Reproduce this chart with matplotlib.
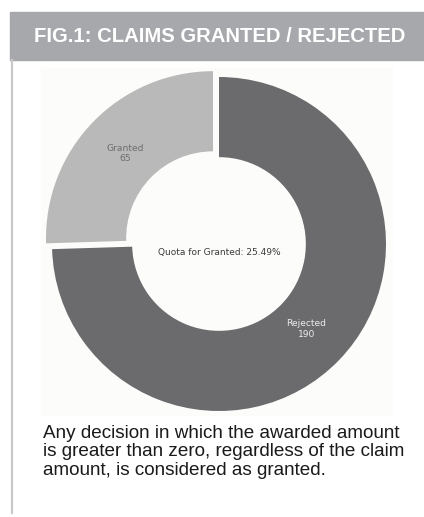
import matplotlib
matplotlib.use("Agg")
import matplotlib.pyplot as plt
from matplotlib.patches import Rectangle
from matplotlib.lines import Line2D

labels = ["Granted", "Rejected"]
counts = [65, 190]
colors = ["#b9b9b9", "#6b6b6d"]
label_colors = ["#6e6e6e", "#ececec"]
title = "FIG.1: CLAIMS GRANTED / REJECTED"
note = ("Any decision in which the awarded amount\n"
        "is greater than zero, regardless of the claim\n"
        "amount, is considered as granted.")

W, H = 424, 517
fig = plt.figure(figsize=(W / 100, H / 100), dpi=100)
fig.patch.set_facecolor("white")

def px(x, y, w, h):
    # pixel box from top-left -> figure fraction
    return [x / W, 1 - (y + h) / H, w / W, h / H]

# header bar + frame line
fig.patches.append(Rectangle((10 / W, 1 - 60 / H), (W - 10) / W, 48 / H,
                             transform=fig.transFigure, color="#a7a8ab", zorder=0))
fig.lines.append(Line2D([11.5 / W, 11.5 / W], [1 - 60 / H, 1 - 513 / H],
                        transform=fig.transFigure, color="#c9c9c9", lw=1.6))
fig.text(220 / W, 1 - 37 / H, title, color="white", fontsize=14.6, fontweight="bold",
         family=["Liberation Sans", "DejaVu Sans"], ha="center", va="center")

# faint chart background
fig.patches.append(Rectangle((41 / W, 1 - 415 / H), 351 / W, 347 / H,
                             transform=fig.transFigure, color="#fcfcfa", zorder=0))

# donut
R = 167
ax = fig.add_axes(px(219 - 1.2 * R, 244 - 1.2 * R, 2.4 * R, 2.4 * R))
ax.set_zorder(2)
ax.patch.set_alpha(0)
ax.set_aspect("equal")
ax.axis("off")

quota = counts[0] / sum(counts) * 100
wedges, texts = ax.pie(counts, labels=[f"{l}\n{c}" for l, c in zip(labels, counts)],
                       colors=colors, startangle=90, counterclock=True,
                       explode=[0.05, 0], labeldistance=0.73,
                       wedgeprops=dict(width=0.48, linewidth=0),
                       textprops=dict(fontsize=6.6))
for t, c in zip(texts, label_colors):
    t.set_ha("center")
    t.set_va("center")
    t.set_multialignment("center")
    t.set_color(c)
ax.set_xlim(-1.2, 1.2)
ax.set_ylim(-1.2, 1.2)
ax.text(0, -0.05, f"Quota for Granted: {quota:.2f}%", ha="center", va="center",
        fontsize=6.5, color="#3a3a3a")

fig.text(43 / W, 1 - 425 / H, note, fontsize=13.6, color="#1a1a1a",
         family=["Liberation Sans", "DejaVu Sans"], ha="left", va="top", linespacing=1.1)

fig.savefig("out.png", dpi=100, facecolor="white")
